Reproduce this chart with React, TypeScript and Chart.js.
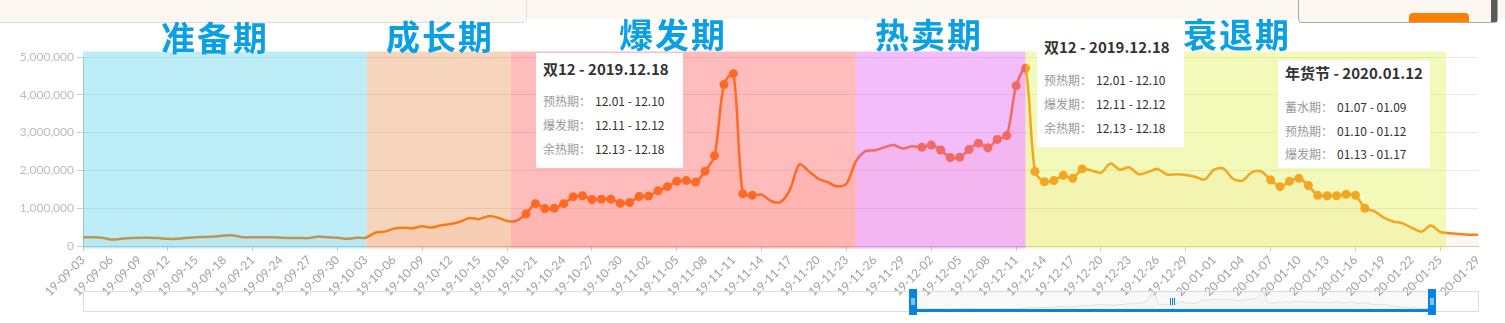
import React, { useEffect, useRef } from "react";
import { Chart, registerables } from "chart.js";

Chart.register(...registerables);

// ---------- data ----------
const startDate = "2019-09-03";
const dayCount = 149;

const salesValues = [
  230000, 230000, 220000, 170000, 190000, 210000, 220000, 220000, 210000, 190000,
  190000, 220000, 230000, 240000, 250000, 280000, 280000, 230000, 230000, 230000,
  230000, 220000, 210000, 210000, 210000, 250000, 230000, 220000, 190000, 220000,
  220000, 350000, 380000, 460000, 480000, 470000, 520000, 490000, 550000, 580000,
  640000, 740000, 710000, 790000, 750000, 660000, 670000, 850000, 1120000, 990000,
  1000000, 1120000, 1300000, 1330000, 1230000, 1240000, 1240000, 1130000, 1150000, 1310000,
  1320000, 1460000, 1570000, 1710000, 1730000, 1690000, 1980000, 2390000, 4270000, 4560000,
  1380000, 1340000, 1360000, 1190000, 1160000, 1490000, 2160000, 1980000, 1780000, 1690000,
  1580000, 1650000, 2240000, 2510000, 2530000, 2610000, 2670000, 2580000, 2640000, 2610000,
  2670000, 2540000, 2340000, 2350000, 2550000, 2720000, 2600000, 2820000, 2920000, 4240000,
  4700000, 1970000, 1700000, 1730000, 1870000, 1790000, 2040000, 2000000, 1940000, 2180000,
  2020000, 2080000, 1900000, 1960000, 2040000, 1890000, 1900000, 1880000, 1830000, 1760000,
  2020000, 2050000, 1780000, 1730000, 1950000, 1970000, 1750000, 1570000, 1710000, 1790000,
  1600000, 1340000, 1330000, 1330000, 1370000, 1340000, 1000000, 920000, 750000, 650000,
  600000, 480000, 380000, 540000, 370000, 340000, 320000, 300000, 300000,
];

const yMin = 0;
const yMax = 5000000;
const yStep = 1000000;

const markerRanges = [
  ["19-10-20", "19-11-13"],
  ["19-12-01", "19-12-18"],
  ["20-01-07", "20-01-17"],
];

const phaseNames = ["准备期", "成长期", "爆发期", "热卖期", "衰退期"];
const phaseStarts = [0, 30.1, 45.4, 82, 100];
const phaseEnds = [30.1, 45.4, 82, 100, 144.6];
const phaseColors = [
  "rgba(38,198,232,0.30)",
  "rgba(228,115,38,0.30)",
  "rgba(255,64,64,0.35)",
  "rgba(221,64,240,0.35)",
  "rgba(221,241,55,0.35)",
];

const tipTitles = ["双12 - 2019.12.18", "双12 - 2019.12.18", "年货节 - 2020.01.12"];
const tipLabels = [
  ["预热期：", "爆发期：", "余热期："],
  ["预热期：", "爆发期：", "余热期："],
  ["蓄水期：", "预热期：", "爆发期："],
];
const tipValues = [
  ["12.01 - 12.10", "12.11 - 12.12", "12.13 - 12.18"],
  ["12.01 - 12.10", "12.11 - 12.12", "12.13 - 12.18"],
  ["01.07 - 01.09", "01.10 - 01.12", "01.13 - 01.17"],
];

// ---------- helpers ----------
function buildLabels(): string[] {
  const [y, m, d] = startDate.split("-").map(Number);
  const out: string[] = [];
  for (let i = 0; i < dayCount; i++) {
    const dt = new Date(Date.UTC(y, m - 1, d + i));
    const yy = String(dt.getUTCFullYear()).slice(2);
    const mm = String(dt.getUTCMonth() + 1).padStart(2, "0");
    const dd = String(dt.getUTCDate()).padStart(2, "0");
    out.push(`${yy}-${mm}-${dd}`);
  }
  return out;
}

const LINE = "rgb(255,128,20)";
const BLUE = "rgb(6,132,222)";

function isLabeled(i: number, n: number) {
  if (i === n - 1) return true;
  if (i === n - 2) return false;
  return i % 3 === 0;
}

const bandsPlugin = {
  id: "phaseBands",
  afterDatasetsDraw(chart: any) {
    const { ctx } = chart;
    const x = chart.scales.x;
    const y = chart.scales.y;
    const n = chart.data.labels.length;
    const pos = (v: number) => x.left + (v / (n - 1)) * (x.right - x.left);
    ctx.save();
    for (let k = 0; k < phaseStarts.length; k++) {
      const x0 = pos(phaseStarts[k]);
      const x1 = pos(phaseEnds[k]);
      ctx.fillStyle = phaseColors[k];
      ctx.fillRect(x0, y.top - 5.5, x1 - x0, y.bottom - y.top + 8);
    }
    ctx.restore();
  },
};

const sliderPlugin = {
  id: "zoomSlider",
  afterDraw(chart: any) {
    const { ctx, chartArea } = chart;
    const left = chartArea.left;
    const right = chartArea.right;
    const w = right - left;
    const top = 291.5;
    const bottom = 311.5;
    const wx0 = left + 0.595 * w;
    const wx1 = left + 0.967 * w;
    const data: number[] = chart.data.datasets[0].data;
    const n = data.length;
    ctx.save();
    ctx.strokeStyle = "#dddddd";
    ctx.lineWidth = 1;
    ctx.strokeRect(left + 0.5, top, w, bottom - top);
    ctx.fillStyle = "rgba(0,0,0,0.025)";
    ctx.fillRect(wx0, top, wx1 - wx0, bottom - top);
    ctx.beginPath();
    for (let i = 0; i < n; i++) {
      const px = wx0 + (i / (n - 1)) * (wx1 - wx0);
      const py = bottom - 2 - (data[i] / yMax) * 19;
      if (i === 0) ctx.moveTo(px, py);
      else ctx.lineTo(px, py);
    }
    ctx.strokeStyle = "#e2e2e2";
    ctx.lineWidth = 1;
    ctx.stroke();
    ctx.lineTo(wx1, bottom);
    ctx.lineTo(wx0, bottom);
    ctx.closePath();
    ctx.fillStyle = "rgba(0,0,0,0.02)";
    ctx.fill();
    ctx.fillStyle = BLUE;
    ctx.fillRect(wx0, bottom - 2.5, wx1 - wx0, 3);
    for (const hx of [wx0, wx1]) {
      ctx.fillStyle = BLUE;
      ctx.fillRect(hx - 4, 289, 8, 26);
      ctx.fillStyle = "#ffffff";
      ctx.fillRect(hx - 1.5, 298, 1, 7);
      ctx.fillRect(hx + 0.5, 298, 1, 7);
    }
    const c = Math.round((wx0 + wx1) / 2);
    ctx.fillStyle = BLUE;
    for (const dx of [-2, 0, 2]) ctx.fillRect(c + dx, 298, 1, 7);
    ctx.restore();
  },
};

const tipBoxes = [
  { left: 536, top: 53, width: 147, height: 115, title: 69, rows: [101, 125, 149] },
  { left: 1037, top: 30, width: 147, height: 117, title: 47, rows: [80, 104, 128] },
  { left: 1278, top: 60, width: 152, height: 108, title: 73, rows: [107, 131, 154] },
];

const phaseTitlePos = [
  { x: 215, y: 37 },
  { x: 440, y: 36 },
  { x: 673, y: 34 },
  { x: 929, y: 34 },
  { x: 1237, y: 34 },
];

export default function App() {
  const canvasRef = useRef<HTMLCanvasElement | null>(null);

  useEffect(() => {
    document.body.style.margin = "0";
    const canvas = canvasRef.current;
    if (!canvas) return;
    const labels = buildLabels();
    const n = labels.length;
    const markerSet = new Set<number>();
    for (const [a, b] of markerRanges) {
      const i0 = labels.indexOf(a);
      const i1 = labels.indexOf(b);
      for (let i = i0; i <= i1; i++) markerSet.add(i);
    }

    const chart = new Chart(canvas, {
      type: "line",
      data: {
        labels,
        datasets: [
          {
            data: salesValues,
            borderColor: LINE,
            backgroundColor: "rgba(255,110,50,0.07)",
            fill: "origin",
            borderWidth: 2.5,
            tension: 0.3,
            pointRadius: (c: any) => (markerSet.has(c.dataIndex) ? 4.5 : 0),
            pointHoverRadius: 0,
            pointBackgroundColor: LINE,
            pointBorderWidth: 0,
          },
        ],
      },
      options: {
        animation: false,
        responsive: false,
        devicePixelRatio: 1,
        events: [],
        layout: { padding: { top: 57, right: 27, left: 0, bottom: 0 } },
        plugins: {
          legend: { display: false },
          tooltip: { enabled: false },
          title: { display: false },
        },
        scales: {
          x: {
            type: "category",
            offset: false,
            border: { color: "#cccccc" },
            grid: {
              drawOnChartArea: false,
              drawTicks: true,
              tickLength: 5,
              tickColor: (c: any) => (isLabeled(c.index, n) ? "#cccccc" : "rgba(0,0,0,0)"),
            },
            ticks: {
              autoSkip: false,
              maxRotation: 45,
              minRotation: 45,
              color: "#a0a0a0",
              padding: 2,
              font: { family: "Lato, 'Noto Sans', sans-serif", size: 12 },
              callback: function (this: any, value: any, index: number) {
                return isLabeled(index, n) ? labels[index] : null;
              },
            },
            afterFit: (s: any) => {
              s.height = 77;
            },
          },
          y: {
            min: yMin,
            max: yMax,
            border: { color: "#cccccc" },
            grid: { color: "#e8e8e8", tickLength: 6, tickColor: "#cccccc" },
            ticks: {
              stepSize: yStep,
              color: "#bbbbbb",
              padding: 3,
              font: { family: "Lato, 'Noto Sans', sans-serif", size: 12 },
              callback: (v: any) => Number(v).toLocaleString("en-US"),
            },
            afterFit: (s: any) => {
              s.width = 83;
            },
          },
        },
      } as any,
      plugins: [bandsPlugin, sliderPlugin],
    });
    return () => chart.destroy();
  }, []);

  const cjk = "'Noto Sans CJK SC', 'Noto Sans', sans-serif";

  return (
    <div style={{ position: "relative", width: 1505, height: 323, overflow: "hidden", background: "#ffffff" }}>
      <canvas ref={canvasRef} width={1505} height={323} style={{ position: "absolute", left: 0, top: 0 }} />
      <div style={{ position: "absolute", left: 0, top: 0, width: 1505, height: 19, background: "#fdf7f1" }} />
      <div
        style={{
          position: "absolute", left: -6, top: -10, width: 533, height: 33, boxSizing: "border-box",
          background: "#fdf7f1", border: "1px solid #dedede", borderRadius: 5,
        }}
      />
      <div
        style={{
          position: "absolute", left: 1298, top: -10, width: 200, height: 33, boxSizing: "border-box",
          background: "#fdf7f1", border: "1px solid #a8a8a8", borderRadius: 4, overflow: "hidden",
        }}
      >
        <div style={{ position: "absolute", left: 110, top: 22, width: 60, height: 16, background: "#ff8000", borderRadius: 4 }} />
      </div>
      <div style={{ position: "absolute", left: 1491, top: 0, width: 6, height: 22, background: "#5a5a5a" }} />

      {phaseNames.map((name, k) => (
        <div
          key={name}
          style={{
            position: "absolute", left: phaseTitlePos[k].x, top: phaseTitlePos[k].y,
            transform: "translate(-50%, -50%)", color: "#0aa0e6", fontFamily: cjk,
            fontWeight: 700, fontSize: 34, letterSpacing: 2, lineHeight: "40px", whiteSpace: "nowrap",
          }}
        >
          {name}
        </div>
      ))}

      {tipBoxes.map((b, k) => (
        <div
          key={k}
          style={{ position: "absolute", left: b.left, top: b.top, width: b.width, height: b.height, background: "#ffffff" }}
        >
          <div
            style={{
              position: "absolute", left: 7, top: b.title - b.top - 10, lineHeight: "20px",
              fontFamily: cjk, fontWeight: 700, fontSize: 15, color: "#333333", whiteSpace: "nowrap",
            }}
          >
            {tipTitles[k]}
          </div>
          {tipLabels[k].map((lab, r) => (
            <div
              key={r}
              style={{
                position: "absolute", left: 7, top: b.rows[r] - b.top - 10, lineHeight: "20px",
                fontFamily: cjk, fontSize: 12, whiteSpace: "nowrap",
              }}
            >
              <span style={{ color: "#999999" }}>{lab}</span>
              <span style={{ color: "#333333", marginLeft: 4 }}>{tipValues[k][r]}</span>
            </div>
          ))}
        </div>
      ))}
    </div>
  );
}
